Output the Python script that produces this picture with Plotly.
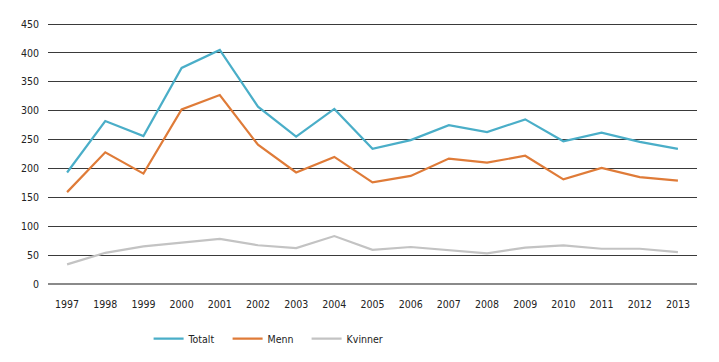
import plotly.graph_objects as go

years = [str(y) for y in range(1997, 2014)]
totalt = [193, 282, 256, 374, 405, 307, 255, 303, 234, 249, 275, 263, 285, 247, 262, 246, 234]
menn = [159, 228, 191, 302, 327, 241, 193, 220, 176, 187, 217, 210, 222, 181, 201, 185, 179]
kvinner = [34, 54, 65, 72, 78, 67, 62, 83, 59, 64, 58, 53, 63, 67, 61, 61, 55]
y_ticks = list(range(0, 451, 50))

series = [("Totalt", totalt, "#4aaec8"), ("Menn", menn, "#df7b38"), ("Kvinner", kvinner, "#c3c3c3")]

fig = go.Figure()
for name, vals, color in series:
    fig.add_trace(go.Scatter(x=years, y=vals, name=name, mode="lines",
                             line=dict(color=color, width=2.2)))

fig.update_layout(
    width=711, height=354,
    margin=dict(l=40, r=22, t=15, b=77, autoexpand=False),
    paper_bgcolor="white", plot_bgcolor="white",
    font=dict(family="DejaVu Sans Condensed, Open Sans, sans-serif", size=10.5, color="#222"),
    showlegend=True,
    legend=dict(orientation="h", x=0.155, xanchor="left", y=-0.205, yanchor="middle",
                font=dict(size=10.5), entrywidth=34, entrywidthmode="pixels",
                tracegroupgap=0),
    xaxis=dict(type="category", range=[-0.5, 16.5], showgrid=False, zeroline=False,
               showline=False, ticks="", tickfont=dict(size=10.5), ticklabelstandoff=11,
               automargin=False),
    yaxis=dict(range=[-1.75, 451.75], tickvals=y_ticks, showgrid=True, gridcolor="#3a3a3a",
               gridwidth=1, zeroline=True, zerolinecolor="#8a8a8a", zerolinewidth=1.5,
               showline=False, ticks="", ticklabelstandoff=8, automargin=False),
)

fig.write_html("out.html")
